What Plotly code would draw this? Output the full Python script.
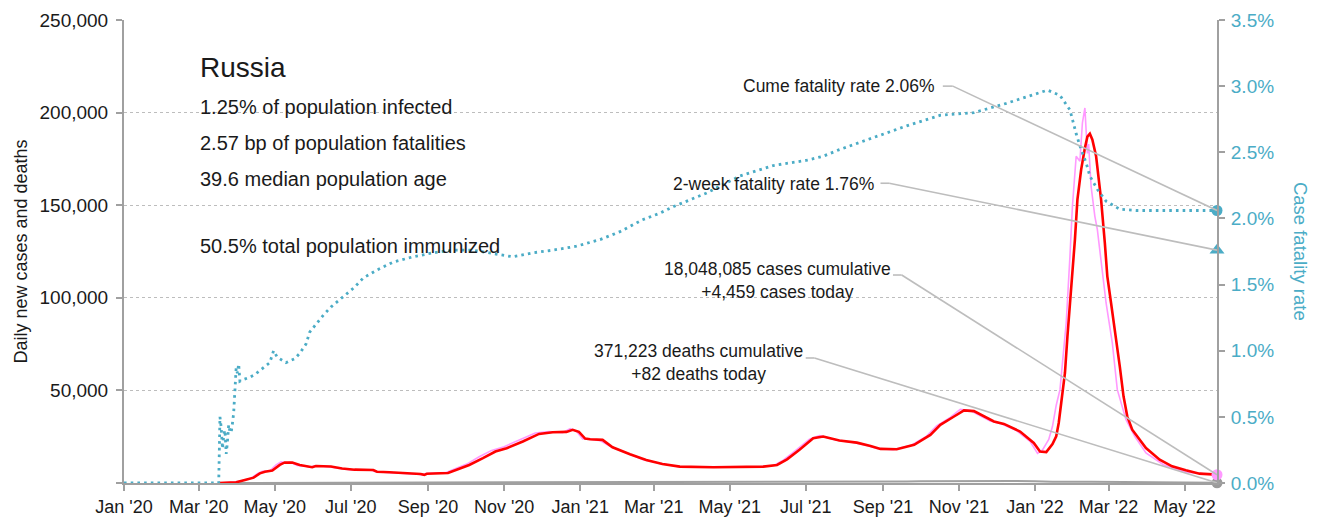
import plotly.graph_objects as go

# ---- data -------------------------------------------------------------
# 7-day average of daily new cases
avg_dates = [
    "2020-03-17", "2020-03-31", "2020-04-07", "2020-04-14", "2020-04-19", "2020-04-23",
    "2020-04-29", "2020-05-05", "2020-05-09", "2020-05-15", "2020-05-21", "2020-05-29",
    "2020-05-31", "2020-06-03", "2020-06-15", "2020-06-24", "2020-07-04", "2020-07-19",
    "2020-07-22", "2020-08-01", "2020-08-14", "2020-08-26", "2020-08-29", "2020-08-31",
    "2020-09-17", "2020-09-23", "2020-10-04", "2020-10-15", "2020-10-25", "2020-11-03",
    "2020-11-16", "2020-11-29", "2020-12-10", "2020-12-21", "2020-12-26", "2020-12-31",
    "2021-01-05", "2021-01-09", "2021-01-19", "2021-01-27", "2021-02-10", "2021-02-23",
    "2021-03-08", "2021-03-22", "2021-04-18", "2021-05-28", "2021-06-08", "2021-06-16",
    "2021-06-26", "2021-07-07", "2021-07-15", "2021-07-28", "2021-08-11", "2021-08-22",
    "2021-08-30", "2021-09-12", "2021-09-26", "2021-10-09", "2021-10-17", "2021-10-28",
    "2021-11-05", "2021-11-13", "2021-11-21", "2021-11-29", "2021-12-07", "2021-12-20",
    "2021-12-31", "2022-01-05", "2022-01-10", "2022-01-15", "2022-01-18", "2022-01-20",
    "2022-01-22", "2022-01-25", "2022-01-27", "2022-01-30", "2022-02-02", "2022-02-04",
    "2022-02-07", "2022-02-10", "2022-02-12", "2022-02-14", "2022-02-16", "2022-02-19",
    "2022-02-23", "2022-02-26", "2022-02-28", "2022-03-03", "2022-03-07", "2022-03-10",
    "2022-03-13", "2022-03-16", "2022-03-20", "2022-03-26", "2022-03-31", "2022-04-11",
    "2022-04-21", "2022-05-02", "2022-05-13", "2022-05-27",
]
avg_cases = [
    0, 400, 1600, 2900, 5200, 6100,
    6700, 9750, 11100, 11000, 9750, 8900,
    8500, 9200, 8900, 7800, 7200, 7000,
    6100, 5800, 5400, 4900, 4400, 5000,
    5400, 7000, 9750, 13400, 17000, 18800,
    22400, 26500, 27400, 27600, 28700, 27600,
    24000, 23600, 23300, 19300, 15500, 12450,
    10300, 8850, 8500, 8850, 9750, 12800,
    17900, 24200, 25100, 22900, 21800, 20000,
    18400, 18200, 20600, 26000, 31400, 35900,
    39200, 38800, 35900, 33200, 31900, 27800,
    21600, 17000, 16700, 21000, 25200, 32400,
    43200, 59400, 79200, 104400, 131400, 153000,
    169200, 180900, 187000, 188600, 185400, 176400,
    153000, 129600, 111600, 97200, 79200, 63000,
    46800, 36000, 28800, 23400, 18900, 12600,
    9000, 6840, 5040, 4500,
]

# daily new cases as reported
daily_dates = [
    "2020-03-17", "2020-03-30", "2020-04-05", "2020-04-12", "2020-04-17", "2020-04-21",
    "2020-04-27", "2020-05-02", "2020-05-06", "2020-05-11", "2020-05-13", "2020-05-19",
    "2020-05-27", "2020-05-30", "2020-06-02", "2020-06-13", "2020-06-22", "2020-07-02",
    "2020-07-17", "2020-07-20", "2020-07-30", "2020-08-12", "2020-08-24", "2020-08-28",
    "2020-08-30", "2020-09-15", "2020-09-21", "2020-10-02", "2020-10-12", "2020-10-22",
    "2020-11-01", "2020-11-13", "2020-11-26", "2020-12-07", "2020-12-18", "2020-12-24",
    "2020-12-29", "2021-01-03", "2021-01-07", "2021-01-17", "2021-01-25", "2021-02-08",
    "2021-02-20", "2021-03-06", "2021-03-20", "2021-04-15", "2021-05-25", "2021-06-05",
    "2021-06-13", "2021-06-23", "2021-07-04", "2021-07-12", "2021-07-25", "2021-08-08",
    "2021-08-19", "2021-08-27", "2021-09-09", "2021-09-23", "2021-10-06", "2021-10-14",
    "2021-10-25", "2021-11-02", "2021-11-10", "2021-11-18", "2021-11-26", "2021-12-04",
    "2021-12-17", "2021-12-28", "2022-01-03", "2022-01-07", "2022-01-12", "2022-01-15",
    "2022-01-18", "2022-01-21", "2022-01-23", "2022-01-26", "2022-01-29", "2022-01-31",
    "2022-02-03", "2022-02-06", "2022-02-08", "2022-02-10", "2022-02-12", "2022-02-13",
    "2022-02-15", "2022-02-18", "2022-02-20", "2022-02-23", "2022-02-27", "2022-03-04",
    "2022-03-08", "2022-03-15", "2022-03-22", "2022-03-31", "2022-04-14", "2022-05-02",
    "2022-05-27",
]
daily_cases = [
    0, 500, 1300, 2600, 5000, 6300,
    6600, 9800, 11400, 10800, 11300, 9500,
    8900, 8600, 9300, 8800, 7900, 7100,
    7000, 6200, 5700, 5300, 4800, 4300,
    5100, 5600, 7300, 10200, 14200, 17600,
    19600, 23300, 27000, 27800, 27200, 29300,
    27900, 23800, 23900, 22900, 19800, 16000,
    12700, 10600, 8900, 8700, 8800, 9400,
    12300, 17600, 23700, 25600, 23300, 21900,
    20300, 18700, 18000, 20200, 25300, 30900,
    35400, 39800, 39100, 36300, 33500, 32200,
    28400, 22500, 16000, 17900, 23500, 30600,
    42000, 50400, 64800, 86400, 122400, 149400,
    176400, 173700, 194400, 202500, 178000, 183000,
    160000, 144000, 136800, 118800, 97200, 75600,
    50400, 34200, 25200, 16200, 9900, 5760,
    4459,
]

# cumulative case fatality rate, %
cfr_dates = [
    "2020-01-01", "2020-03-17", "2020-03-18", "2020-03-19", "2020-03-20", "2020-03-21",
    "2020-03-22", "2020-03-23", "2020-03-24", "2020-03-25", "2020-03-26", "2020-03-27",
    "2020-03-28", "2020-03-29", "2020-03-30", "2020-03-31", "2020-04-01", "2020-04-02",
    "2020-04-03", "2020-04-05", "2020-04-11", "2020-04-15", "2020-04-19", "2020-04-27",
    "2020-04-30", "2020-05-03", "2020-05-10", "2020-05-17", "2020-05-21", "2020-05-26",
    "2020-05-29", "2020-06-02", "2020-06-09", "2020-06-15", "2020-06-25", "2020-07-04",
    "2020-07-11", "2020-07-22", "2020-08-04", "2020-08-20", "2020-09-05", "2020-09-21",
    "2020-10-07", "2020-10-21", "2020-11-08", "2020-11-24", "2020-12-10", "2020-12-29",
    "2021-01-17", "2021-02-02", "2021-02-20", "2021-03-06", "2021-03-17", "2021-04-12",
    "2021-05-09", "2021-06-05", "2021-07-02", "2021-07-15", "2021-07-28", "2021-08-24",
    "2021-09-20", "2021-10-17", "2021-11-13", "2021-12-09", "2022-01-11", "2022-01-21",
    "2022-01-29", "2022-02-03", "2022-02-07", "2022-02-11", "2022-02-14", "2022-02-20",
    "2022-02-27", "2022-03-10", "2022-03-23", "2022-05-27",
]
cfr_pct = [
    0.00, 0.00, 0.50, 0.42, 0.26, 0.36,
    0.40, 0.22, 0.31, 0.44, 0.39, 0.38,
    0.45, 0.53, 0.70, 0.87, 0.83, 0.90,
    0.77, 0.78, 0.80, 0.82, 0.85, 0.91,
    1.00, 0.95, 0.91, 0.94, 0.98, 1.05,
    1.14, 1.19, 1.27, 1.33, 1.41, 1.48,
    1.55, 1.61, 1.67, 1.71, 1.74, 1.76,
    1.76, 1.74, 1.71, 1.74, 1.76, 1.79,
    1.84, 1.90, 1.99, 2.04, 2.09, 2.19,
    2.32, 2.40, 2.44, 2.47, 2.52, 2.61,
    2.70, 2.78, 2.80, 2.87, 2.97, 2.93,
    2.82, 2.64, 2.52, 2.42, 2.32, 2.22,
    2.13, 2.07, 2.06, 2.06,
]

# daily deaths
death_dates = [
    "2020-03-17", "2020-04-15", "2020-05-15", "2020-06-15", "2020-07-15", "2020-08-15",
    "2020-09-15", "2020-10-15", "2020-11-15", "2020-12-15", "2021-01-15", "2021-02-15",
    "2021-03-15", "2021-04-15", "2021-05-15", "2021-06-15", "2021-07-15", "2021-08-15",
    "2021-09-20", "2021-10-01", "2021-10-15", "2021-11-01", "2021-11-15", "2021-12-01",
    "2021-12-15", "2022-01-01", "2022-01-15", "2022-02-15", "2022-03-15", "2022-04-15",
    "2022-05-01", "2022-05-27",
]
death_counts = [
    0, 30, 110, 150, 150, 110,
    110, 250, 400, 560, 550, 450,
    380, 380, 370, 420, 760, 790,
    820, 960, 1050, 1150, 1230, 1200,
    1080, 900, 700, 720, 600, 280,
    180, 82,
]

last_date = "2022-05-27"
cases_total = 18048085
cases_today = 4459
deaths_total = 371223
deaths_today = 82
cume_cfr = 2.06
two_week_cfr = 1.76

country = "Russia"
facts = [
    "1.25% of population infected",
    "2.57 bp of population fatalities",
    "39.6 median population age",
]
immunized = "50.5% total population immunized"

# ---- styling -----------------------------------------------------------
FONT = "Liberation Sans, Arial, sans-serif"
INK = "#1a1a1a"
TEAL = "#4bacc6"
RED = "#ff0000"
PINK = "#ff99ff"
AXIS = "#a0a0a0"
LEADER = "#bdbdbd"

fig = go.Figure()

fig.add_trace(go.Scatter(x=death_dates, y=death_counts, mode="lines",
                         line=dict(color=AXIS, width=2), name="deaths"))
fig.add_trace(go.Scatter(x=daily_dates, y=daily_cases, mode="lines",
                         line=dict(color=PINK, width=1.6), name="daily cases"))
fig.add_trace(go.Scatter(x=avg_dates, y=avg_cases, mode="lines",
                         line=dict(color=RED, width=2.6), name="7-day average"))
fig.add_trace(go.Scatter(x=cfr_dates, y=cfr_pct, mode="lines", yaxis="y2",
                         line=dict(color=TEAL, width=2.8, dash="2.6px,4.1px"),
                         name="case fatality rate"))

# end-of-series markers
fig.add_trace(go.Scatter(x=[last_date], y=[deaths_today], mode="markers", cliponaxis=False,
                         marker=dict(color="#9a9a9a", size=11)))
fig.add_trace(go.Scatter(x=[last_date], y=[cases_today], mode="markers", cliponaxis=False,
                         marker=dict(color=PINK, size=11)))
fig.add_trace(go.Scatter(x=[last_date], y=[cume_cfr], mode="markers", yaxis="y2",
                         cliponaxis=False, marker=dict(color=TEAL, size=11)))
fig.add_trace(go.Scatter(x=[last_date], y=[two_week_cfr], mode="markers", yaxis="y2",
                         cliponaxis=False,
                         marker=dict(color=TEAL, size=13, symbol="triangle-up")))

# leader lines from labels to end markers
leaders = [
    ("y2", [("2021-10-19", 3.0), ("2021-10-27", 3.0), (last_date, cume_cfr)]),
    ("y2", [("2021-08-30", 2.266), ("2021-09-06", 2.266), (last_date, two_week_cfr)]),
    ("y", [("2021-09-09", 112300), ("2021-09-16", 112300), (last_date, cases_today)]),
    ("y", [("2021-07-01", 67500), ("2021-07-08", 67500), (last_date, deaths_today)]),
]
for yref, pts in leaders:
    for (xa, ya), (xb, yb) in zip(pts[:-1], pts[1:]):
        fig.add_shape(type="line", xref="x", yref=yref, x0=xa, y0=ya, x1=xb, y1=yb,
                      line=dict(color=LEADER, width=1.6), layer="above")

ann = []
ann.append(dict(text=country, x=0.0677, y=0.897, xref="paper", yref="paper",
                xanchor="left", yanchor="middle", showarrow=False,
                font=dict(size=28, color=INK)))
for i, line in enumerate(facts):
    ann.append(dict(text=line, x=0.0677, y=0.812 - i * 0.0778, xref="paper", yref="paper",
                    xanchor="left", yanchor="middle", showarrow=False,
                    font=dict(size=20, color=INK)))
ann.append(dict(text=immunized, x=0.0677, y=0.512, xref="paper", yref="paper",
                xanchor="left", yanchor="middle", showarrow=False,
                font=dict(size=20, color=INK)))
ann.append(dict(text=f"Cume fatality rate {cume_cfr:.2f}%", x=0.7438, y=0.8575,
                xref="paper", yref="paper", xanchor="right", yanchor="middle",
                showarrow=False, font=dict(size=17.5, color=INK)))
ann.append(dict(text=f"2-week fatality rate {two_week_cfr:.2f}%", x=0.688, y=0.6458,
                xref="paper", yref="paper", xanchor="right", yanchor="middle",
                showarrow=False, font=dict(size=17.5, color=INK)))
ann.append(dict(text=f"{cases_total:,} cases cumulative<br>+{cases_today:,} cases today",
                x=0.5975, y=0.4384, xref="paper", yref="paper", xanchor="center",
                yanchor="middle", align="center", showarrow=False,
                font=dict(size=17.5, color=INK)))
ann.append(dict(text=f"{deaths_total:,} deaths cumulative<br>+{deaths_today:,} deaths today",
                x=0.526, y=0.2592, xref="paper", yref="paper", xanchor="center",
                yanchor="middle", align="center", showarrow=False,
                font=dict(size=17.5, color=INK)))
ann.append(dict(text="Daily new cases and deaths", x=-0.0951, y=0.5, xref="paper",
                yref="paper", textangle=-90, showarrow=False, xanchor="center",
                yanchor="middle", font=dict(size=18, color=INK)))
ann.append(dict(text="Case fatality rate", x=1.0765, y=0.5, xref="paper",
                yref="paper", textangle=90, showarrow=False, xanchor="center",
                yanchor="middle", font=dict(size=18.5, color=TEAL)))

left_ticks = [0, 50000, 100000, 150000, 200000, 250000]
left_text = [""] + [f"{v:,}" for v in left_ticks[1:]]

fig.update_layout(
    width=1319, height=522,
    margin=dict(l=124, r=102, t=20, b=39, autoexpand=False),
    paper_bgcolor="white", plot_bgcolor="white",
    font=dict(family=FONT, size=19, color=INK),
    showlegend=False,
    annotations=ann,
    xaxis=dict(
        type="date", range=["2020-01-01", last_date], automargin=False,
        tickvals=["2020-01-01", "2020-03-01", "2020-05-01", "2020-07-01", "2020-09-01",
                  "2020-11-01", "2021-01-01", "2021-03-01", "2021-05-01", "2021-07-01",
                  "2021-09-01", "2021-11-01", "2022-01-01", "2022-03-01", "2022-05-01"],
        tickformat="%b '%y", ticks="outside", ticklen=6, tickwidth=1.5, tickcolor=AXIS,
        showline=True, linecolor=AXIS, linewidth=2, showgrid=False, zeroline=False,
        tickfont=dict(size=18, color=INK),
    ),
    yaxis=dict(
        range=[0, 250000], tickvals=left_ticks, ticktext=left_text, automargin=False,
        ticks="outside", ticklen=6, tickwidth=1.5, tickcolor=AXIS,
        showline=True, linecolor=AXIS, linewidth=2,
        showgrid=True, gridcolor="#bdbdbd", griddash="dot", gridwidth=1,
        zeroline=False, tickfont=dict(size=19, color=INK), ticklabelstandoff=4,
    ),
    yaxis2=dict(
        overlaying="y", side="right", range=[0, 3.5], dtick=0.5, automargin=False,
        tickformat=".1f", ticksuffix="%", ticks="outside", ticklen=6, tickwidth=1.5,
        tickcolor=AXIS, showline=True, linecolor=AXIS, linewidth=2,
        showgrid=False, zeroline=False, tickfont=dict(size=19, color=TEAL),
        ticklabelstandoff=2,
    ),
)

fig.write_html("out.html")
